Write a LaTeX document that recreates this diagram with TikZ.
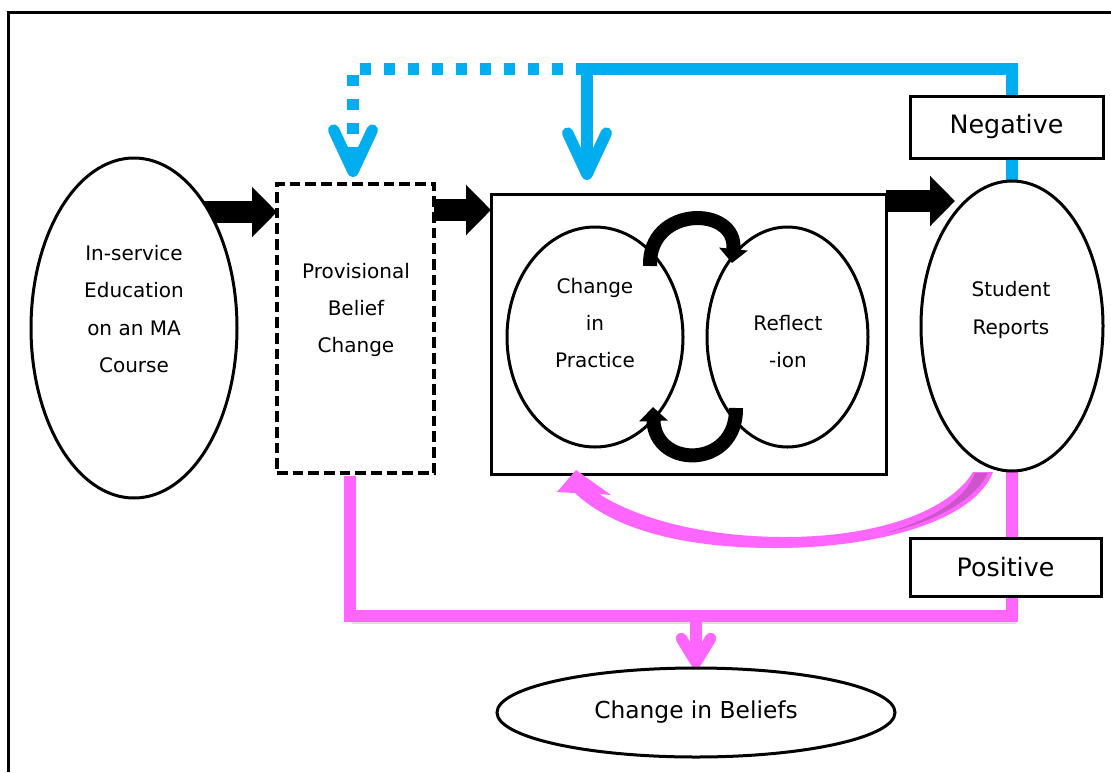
\documentclass[tikz,border=0pt]{standalone}
\usepackage{fontspec}
\setmainfont{DejaVu Sans}
\usetikzlibrary{shapes.geometric,arrows.meta}
\definecolor{skyblue}{RGB}{0,174,239}
\definecolor{pinkline}{RGB}{255,102,255}
\definecolor{pinkdark}{RGB}{204,85,204}
\pgfdeclarelayer{back}
\pgfsetlayers{back,main}

\begin{document}
\begin{tikzpicture}[x=0.75pt,y=-0.75pt,
  every node/.style={inner sep=0pt,outer sep=0pt},
  oval/.style={ellipse,draw,line width=2.25pt,fill=white},
  boxed/.style={rectangle,draw,line width=2.25pt,fill=white},
  dashbox/.style={rectangle,draw,line width=2.6pt,dash pattern=on 8pt off 3.75pt,fill=white},
  txt/.style={align=center,font=\fontsize{15}{28}\selectfont},
  bigtxt/.style={font=\fontsize{17.5}{21}\selectfont},
  tagtxt/.style={font=\fontsize{19}{23}\selectfont},
  blockarrow/.style={line width=16.5pt,-{Triangle[length=18.75pt,width=36.75pt]}},
  curlarrow/.style={line width=10.5pt,-{Triangle[length=10.5pt,width=21pt]}},
  blueline/.style={skyblue,line width=8.5pt},
  pinkwire/.style={pinkline,line width=8.5pt},
  bigbarb/.style={-{Straight Barb[length=31pt,width=29pt,round]}},
  smallbarb/.style={-{Straight Barb[length=18pt,width=22pt,round]}},
]
\useasboundingbox (0,0) rectangle (1111,772);

% nodes
\node[oval,minimum width=154.5pt,minimum height=255pt] (edu) at (134,328) {};
\node[txt] (edut) at (134,309) {In-service\\Education\\on an MA\\Course};

\node[dashbox,minimum width=117.75pt,minimum height=216.75pt] (prov) at (355.5,328.5) {};
\node[txt] (provt) at (356,310) {Provisional\\Belief\\Change};

\node[boxed,minimum width=296.25pt,minimum height=210pt] (cycle) at (688.5,334) {};
\node[oval,minimum width=132pt,minimum height=165pt] (prac) at (595,337) {};
\node[txt] (pract) at (595,323) {Change\\in\\Practice};
\node[oval,minimum width=120.75pt,minimum height=165pt] (refl) at (787.5,337) {};
\node[txt] (reflt) at (788,341.5) {Reflect\\-ion};

\node[oval,minimum width=136.5pt,minimum height=217.5pt] (rep) at (1012,326) {};
\node[txt] (rept) at (1011,310) {Student\\Reports};

\node[boxed,minimum width=144.75pt,minimum height=46.5pt,tagtxt] (neg) at (1006.5,127) {Negative};
\node[boxed,minimum width=143.25pt,minimum height=43.5pt,tagtxt] (pos) at (1005.5,567) {Positive};
\node[oval,minimum width=298.5pt,minimum height=66.75pt,bigtxt] (bel) at (696,712.5) {Change in Beliefs};

% helper points
\coordinate (bluejoin) at (587,69);
\coordinate (bluecorner) at (353,69);
\coordinate (edu0) at (196,212);
\coordinate (rep0) at (955,201);

\begin{pgfonlayer}{back}
  % canvas and frame
  \fill[white] (0,0) rectangle (1111,772);
  \draw[line width=2.25pt] (8,772) -- (8,12) -- (1111,12);

  % negative feedback (blue)
  \draw[blueline] (rep.north) -- (rep.north |- bluejoin) -- (bluejoin);
  \draw[blueline,bigbarb] (bluejoin) -- (bluejoin |- 0,180);
  \draw[blueline,dash pattern=on 8.25pt off 9.75pt,bigbarb]
    (bluejoin) -- (bluecorner) -- (bluecorner |- 0,177);

  % positive feedback (pink)
  \draw[black!25,line width=6pt,opacity=0.5] (352,620) -- (1016,620);
  \draw[pinkwire] (rep.south) -- (rep.south |- 0,616) -- (350,616) -- (350,476);
  \draw[pinkwire,smallbarb] (bel.north |- 0,616) -- (bel.north);

  % main flow (black block arrows)
  \draw[blockarrow] (edu0) -- (prov.west |- edu0);
  \draw[blockarrow] (prov.east |- 0,210) -- (cycle.west |- 0,210);
  \draw[blockarrow] (cycle.east |- rep0) -- (rep0);
\end{pgfonlayer}

% positive feedback back into the practice cycle
\fill[pinkline]
  (993,472) .. controls (975,520) and (880,548) .. (775,548)
  .. controls (680,548) and (612,528) .. (575,493)
  -- (557,492) -- (576,470) -- (611,495) -- (599,494)
  .. controls (635,517) and (700,537) .. (785,537)
  .. controls (880,537) and (950,510) .. (973,472) -- cycle;
\fill[pinkdark]
  (975,473) .. controls (965,500) and (930,520) .. (885,533)
  .. controls (935,522) and (975,500) .. (988,473) -- cycle;

% practice <-> reflection cycle
\draw[curlarrow] (650,266) .. controls (648,205) and (738,205) .. (732,263);
\draw[curlarrow] (736,408) .. controls (737,469) and (655,469) .. (653,407);
\end{tikzpicture}
\end{document}
